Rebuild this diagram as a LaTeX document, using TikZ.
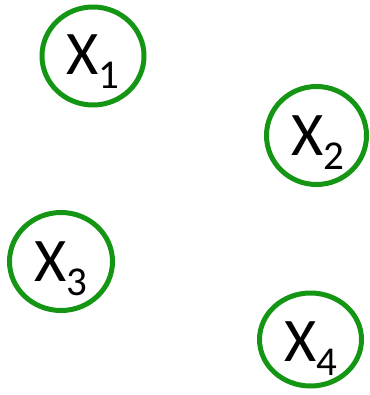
\documentclass[tikz,border=0pt]{standalone}
\usepackage{fontspec}
\setmainfont{Carlito}
\usetikzlibrary{shapes.geometric}
\definecolor{nodegreen}{RGB}{20,150,20}
\newcommand{\xlab}[1]{{\fontsize{62}{62}\selectfont X\raisebox{-14pt}{\fontsize{41}{41}\selectfont #1}}}
\begin{document}
\begin{tikzpicture}[x=1pt,y=-1pt,
  ring/.style={draw=nodegreen,line width=5pt,ellipse,inner sep=0pt},
  lab/.style={anchor=base,inner sep=0pt,text=black}]
\useasboundingbox (0,0) rectangle (369,395);
\node[ring,minimum width=102pt,minimum height=98pt] (c1) at (93,56) {};
\node[ring,minimum width=100pt,minimum height=98pt] (c2) at (316.5,135.5) {};
\node[ring,minimum width=103pt,minimum height=98pt] (c3) at (61,261.5) {};
\node[ring,minimum width=102pt,minimum height=93pt] (c4) at (310.5,339.5) {};
\node[lab] (l1) at (92.5,75) {\xlab{1}};
\node[lab] (l2) at (317.5,156) {\xlab{2}};
\node[lab] (l3) at (61,281) {\xlab{3}};
\node[lab] (l4) at (310.5,361) {\xlab{4}};
\end{tikzpicture}
\end{document}
